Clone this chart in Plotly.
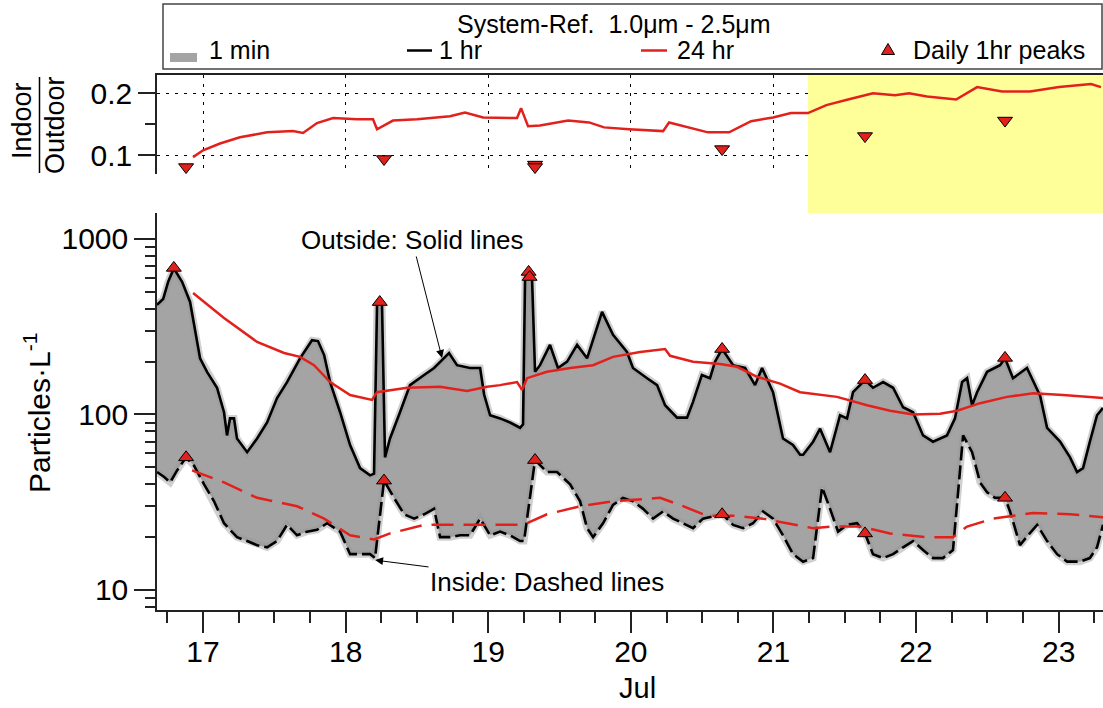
import math
import plotly.graph_objects as go

# ---------------- data (days of July, particles per litre) ----------------
out_day = [16.677, 16.720, 16.755, 16.795, 16.853, 16.909, 16.979, 17.028, 17.098, 17.147, 17.168, 17.189,
           17.217, 17.238, 17.309, 17.379, 17.449, 17.519, 17.589, 17.680, 17.764, 17.806, 17.849, 17.891,
           17.961, 18.031, 18.101, 18.171, 18.199, 18.220, 18.239, 18.255, 18.276, 18.311, 18.381, 18.451,
           18.550, 18.620, 18.725, 18.781, 18.872, 18.943, 18.971, 18.992, 19.013, 19.083, 19.153, 19.223,
           19.244, 19.258, 19.286, 19.307, 19.328, 19.363, 19.433, 19.489, 19.553, 19.623, 19.693, 19.798,
           19.875, 19.973, 20.015, 20.114, 20.184, 20.240, 20.324, 20.394, 20.436, 20.498, 20.555, 20.590,
           20.640, 20.717, 20.801, 20.871, 20.920, 20.997, 21.067, 21.137, 21.187, 21.208, 21.278, 21.327,
           21.397, 21.467, 21.516, 21.558, 21.642, 21.698, 21.769, 21.839, 21.909, 21.979, 22.049, 22.119,
           22.217, 22.273, 22.323, 22.358, 22.393, 22.428, 22.498, 22.589, 22.624, 22.680, 22.778, 22.870,
           22.919, 23.010, 23.080, 23.129, 23.171, 23.219, 23.269, 23.311]
out_val = [421, 455, 570, 680, 570, 438, 209, 175, 142, 103, 76, 95,
           95, 73, 61, 73, 90, 124, 153, 209, 265, 262, 218, 153,
           103, 67, 49.5, 45, 46, 421, 440, 421, 57, 73, 103, 147,
           168, 184, 224, 191, 184, 184, 130, 113, 99, 95, 90, 84,
           88, 600, 650, 600, 175, 191, 249, 184, 200, 249, 209, 384,
           284, 227, 184, 161, 147, 113, 96, 96, 118, 168, 161, 200,
           236, 191, 184, 147, 184, 134, 73, 67, 59, 59, 70, 83,
           61, 99, 95, 134, 157, 142, 153, 142, 110, 103, 76, 70,
           76, 95, 153, 161, 113, 134, 175, 191, 209, 161, 184, 128,
           84, 70, 57, 47, 49.5, 70, 99, 109]

in_day = [16.677, 16.727, 16.769, 16.818, 16.881, 16.937, 17.007, 17.077, 17.147, 17.238, 17.309, 17.379,
          17.449, 17.519, 17.589, 17.659, 17.729, 17.799, 17.870, 17.961, 18.031, 18.101, 18.171, 18.206,
          18.269, 18.339, 18.410, 18.480, 18.550, 18.620, 18.662, 18.732, 18.802, 18.872, 18.943, 19.013,
          19.083, 19.153, 19.223, 19.251, 19.328, 19.412, 19.482, 19.574, 19.644, 19.693, 19.735, 19.805,
          19.875, 19.945, 20.015, 20.086, 20.156, 20.226, 20.296, 20.366, 20.436, 20.506, 20.640, 20.717,
          20.787, 20.857, 20.927, 20.997, 21.067, 21.137, 21.208, 21.278, 21.341, 21.397, 21.453, 21.516,
          21.586, 21.642, 21.698, 21.769, 21.839, 21.909, 21.979, 22.049, 22.119, 22.189, 22.259, 22.330,
          22.393, 22.449, 22.498, 22.554, 22.624, 22.659, 22.729, 22.785, 22.849, 22.919, 22.989, 23.059,
          23.150, 23.219, 23.269, 23.311]
in_val = [47, 44, 41, 48, 57, 51, 40, 32, 24, 20, 19, 18,
          17.5, 19, 23.5, 20.5, 21.5, 22, 24, 21.5, 16, 16, 16, 15.2,
          42, 33.5, 27, 25.5, 27, 29, 20, 20, 20.5, 20.5, 25.5, 20.5,
          21.5, 20.5, 19, 19, 55, 47, 47, 40, 32, 22.5, 20, 24,
          30.5, 33.5, 32, 29, 25.5, 28, 25.5, 24, 22.5, 25.5, 27, 23.5,
          22.5, 24, 28, 25.5, 20.5, 16, 14.5, 15.2, 38.5, 29, 21.5, 23.5,
          24, 21, 16, 15.2, 16, 17.5, 19, 16.9, 15.2, 15.2, 16.9, 76,
          61, 41, 36, 33.5, 33.5, 28, 18, 20.5, 23.5, 19, 16, 14.5,
          14.5, 15.2, 17.5, 23.5]

out24_day = [16.930, 17.147, 17.379, 17.568, 17.680, 17.778, 17.891, 18.031, 18.185, 18.220, 18.431,
             18.662, 18.851, 18.992, 19.083, 19.202, 19.237, 19.272, 19.412, 19.574, 19.735, 19.875,
             20.065, 20.240, 20.275, 20.436, 20.626, 20.745, 20.885, 21.046, 21.187, 21.446, 21.656,
             21.818, 21.979, 22.168, 22.288, 22.449, 22.638, 22.820, 23.031, 23.311]
out24_val = [492, 355, 259, 224, 213, 191, 153, 129, 121, 134, 142,
             144, 136, 144, 147, 153, 138, 161, 175, 184, 191, 213,
             227, 236, 216, 200, 194, 187, 164, 150, 134, 126, 113,
             105, 100, 101, 105, 116, 126, 132, 129, 124]

in24_day = [16.923, 17.147, 17.379, 17.659, 17.849, 18.031, 18.199, 18.311, 18.550, 18.781, 18.943,
            19.083, 19.244, 19.412, 19.644, 19.875, 20.065, 20.205, 20.345, 20.534, 20.717, 20.927,
            21.095, 21.278, 21.418, 21.607, 21.818, 22.077, 22.259, 22.358, 22.540, 22.820, 23.080, 23.311]
in24_val = [48, 41, 33.5, 30, 25.5, 20.5, 19.4, 21, 23.5, 23.5, 23.5,
            23.5, 23.5, 27, 30, 32, 33, 33.5, 30.5, 26.5, 26.5, 25.5,
            24, 22.5, 23, 23, 21, 20, 20, 23, 25.5, 27.5, 27, 26]

ratio_day = [16.930, 17.000, 17.119, 17.259, 17.449, 17.631, 17.701, 17.799, 17.912, 18.080, 18.192,
             18.220, 18.332, 18.501, 18.732, 18.837, 18.964, 19.202, 19.230, 19.279, 19.363, 19.560,
             19.707, 19.812, 19.987, 20.226, 20.268, 20.415, 20.541, 20.689, 20.843, 20.997, 21.123,
             21.242, 21.371, 21.523, 21.698, 21.853, 21.951, 22.077, 22.281, 22.428, 22.603, 22.799,
             23.003, 23.227, 23.297]
ratio_val = [0.097, 0.108, 0.119, 0.129, 0.137, 0.139, 0.136, 0.152, 0.160, 0.158, 0.158,
             0.142, 0.156, 0.158, 0.163, 0.169, 0.161, 0.160, 0.176, 0.147, 0.148, 0.156,
             0.153, 0.145, 0.142, 0.139, 0.153, 0.145, 0.137, 0.137, 0.155, 0.161, 0.168,
             0.168, 0.181, 0.190, 0.200, 0.197, 0.200, 0.195, 0.190, 0.210, 0.203, 0.203,
             0.210, 0.215, 0.210]

peak_out_day = [16.795, 18.239, 19.283, 19.290, 20.640, 21.642, 22.624]
peak_out_val = [684, 437, 649, 607, 236, 157, 210]
peak_in_day = [16.881, 18.269, 19.328, 20.640, 21.642, 22.624]
peak_in_val = [57, 42, 55, 27, 21, 33.5]
peak_ratio_day = [16.881, 18.269, 19.328, 19.328, 20.640, 21.642, 22.624]
peak_ratio_val = [0.081, 0.094, 0.085, 0.081, 0.110, 0.131, 0.156]

main_ticks = [10, 100, 1000]
main_minor = [8, 9, 20, 30, 40, 50, 60, 70, 80, 90, 200, 300, 400, 500, 600, 700, 800, 900]
ratio_ticks = [0.1, 0.2]
ratio_minor = [0.15]
highlight_start = 21.242           # yellow period
x_range = [16.677, 23.311]
y_log_range = [0.886, 3.148]
ratio_range = [0.0698, 0.2295]

outside_tip = (18.676, 210)
inside_tip = (18.206, 14.8)

# ---------------- styling / layout helpers ----------------
W, H = 1103, 708
L, R, T, B = 157, 0, 75, 98
PW, PH = W - L - R, H - T - B
FONT = "Liberation Sans, Arial, Helvetica, sans-serif"
RED = "#e3211c"
GRAY = "#a4a4a4"
AX = "#222222"


def px(x):
    return (x - L) / PW


def py(y):
    return (H - B - y) / PH


fig = go.Figure()

# 1-min band
fig.add_trace(go.Scatter(x=out_day + in_day[::-1], y=out_val + in_val[::-1], fill="toself",
                         fillcolor=GRAY, mode="lines", line=dict(width=0), hoverinfo="skip",
                         showlegend=False, xaxis="x", yaxis="y"))
fig.add_trace(go.Scatter(x=out_day, y=out_val, mode="lines",
                         line=dict(color="rgba(150,150,150,0.45)", width=7),
                         showlegend=False, xaxis="x", yaxis="y"))
fig.add_trace(go.Scatter(x=in_day, y=in_val, mode="lines",
                         line=dict(color="rgba(150,150,150,0.45)", width=7),
                         showlegend=False, xaxis="x", yaxis="y"))
# 1 hr
fig.add_trace(go.Scatter(x=out_day, y=out_val, mode="lines", line=dict(color="black", width=2.6),
                         showlegend=False, xaxis="x", yaxis="y"))
fig.add_trace(go.Scatter(x=in_day, y=in_val, mode="lines",
                         line=dict(color="black", width=2.6, dash="14px,5px"),
                         showlegend=False, xaxis="x", yaxis="y"))
# 24 hr
fig.add_trace(go.Scatter(x=out24_day, y=out24_val, mode="lines", line=dict(color=RED, width=2.5),
                         showlegend=False, xaxis="x", yaxis="y"))
fig.add_trace(go.Scatter(x=in24_day, y=in24_val, mode="lines",
                         line=dict(color=RED, width=2.5, dash="22px,10px"),
                         showlegend=False, xaxis="x", yaxis="y"))
# peaks
tri = dict(symbol="triangle-up", size=13, color=RED, line=dict(color="black", width=1))
fig.add_trace(go.Scatter(x=peak_out_day, y=peak_out_val, mode="markers", marker=tri,
                         showlegend=False, xaxis="x", yaxis="y"))
fig.add_trace(go.Scatter(x=peak_in_day, y=peak_in_val, mode="markers", marker=tri,
                         showlegend=False, xaxis="x", yaxis="y"))
# ratio panel
fig.add_trace(go.Scatter(x=ratio_day, y=ratio_val, mode="lines", line=dict(color=RED, width=2.5),
                         showlegend=False, xaxis="x2", yaxis="y2"))
fig.add_trace(go.Scatter(x=peak_ratio_day, y=peak_ratio_val, mode="markers",
                         marker=dict(symbol="triangle-down", size=13, color=RED,
                                     line=dict(color="black", width=1)),
                         showlegend=False, xaxis="x2", yaxis="y2"))

tickfont = dict(family=FONT, size=30, color="black")
fig.update_layout(
    width=W, height=H, margin=dict(l=L, r=R, t=T, b=B, pad=0),
    paper_bgcolor="white", plot_bgcolor="white", showlegend=False,
    font=dict(family=FONT, color="black"),
    xaxis=dict(domain=[0, 1], anchor="y", range=x_range, tick0=0, dtick=1,
               ticks="outside", ticklen=21, tickwidth=1.5, tickcolor=AX, tickfont=tickfont,
               ticklabelstandoff=-7,
               minor=dict(ticks="outside", dtick=0.25, tick0=0, ticklen=11, tickwidth=1.5,
                          tickcolor=AX, showgrid=False),
               showline=True, linecolor=AX, linewidth=1.5, showgrid=False, zeroline=False),
    yaxis=dict(domain=[0, py(213)], anchor="x", type="log", range=y_log_range,
               tickvals=main_ticks, ticktext=[str(v) for v in main_ticks],
               ticks="outside", ticklen=21, tickwidth=1.5, tickcolor=AX, tickfont=tickfont,
               minor=dict(ticks="outside", tickvals=main_minor, ticklen=10, tickwidth=1.5,
                          tickcolor=AX, showgrid=False),
               showline=True, linecolor=AX, linewidth=1.5, showgrid=False, zeroline=False),
    xaxis2=dict(domain=[0, 1], anchor="y2", matches="x", range=x_range, side="top",
                tick0=0, dtick=1, ticks="", showticklabels=False,
                showgrid=True, gridcolor="black", gridwidth=1, griddash="3px,6px",
                showline=True, linecolor=AX, linewidth=1.5, zeroline=False),
    yaxis2=dict(domain=[py(174), 1], anchor="x2", range=ratio_range,
                tickvals=ratio_ticks, ticktext=["0.1", "0.2"],
                ticks="outside", ticklen=17, tickwidth=1.5, tickcolor=AX, tickfont=tickfont,
                minor=dict(ticks="outside", tickvals=ratio_minor, ticklen=10, tickwidth=1.5,
                           tickcolor=AX, showgrid=False),
                showgrid=True, gridcolor="black", gridwidth=1, griddash="3px,6px",
                showline=True, linecolor=AX, linewidth=1.5, zeroline=False),
)


def tri_path(cx, cy, w, h):
    pts = [(cx - w / 2, cy + h / 2), (cx + w / 2, cy + h / 2), (cx, cy - h / 2)]
    return "M " + " L ".join(f"{px(a):.5f},{py(b):.5f}" for a, b in pts) + " Z"


shapes = [
    # yellow period (gap part and panel part)
    dict(type="rect", xref="x", yref="paper", x0=highlight_start, x1=x_range[1],
         y0=py(213), y1=1, fillcolor="#ffff99", line=dict(width=0), layer="below"),
    dict(type="rect", xref="x2", yref="y2", x0=highlight_start, x1=x_range[1],
         y0=ratio_range[0], y1=ratio_range[1], fillcolor="#ffff99", line=dict(width=0),
         layer="between"),
    # legend box
    dict(type="rect", xref="paper", yref="paper", x0=px(163), x1=px(1102), y0=py(69), y1=py(4),
         line=dict(color="#444444", width=1.5), fillcolor="rgba(0,0,0,0)"),
    # legend symbols
    dict(type="rect", xref="paper", yref="paper", x0=px(170), x1=px(197), y0=py(62), y1=py(53),
         fillcolor=GRAY, line=dict(width=0)),
    dict(type="line", xref="paper", yref="paper", x0=px(407), x1=px(432), y0=py(50.5), y1=py(50.5),
         line=dict(color="black", width=2.5)),
    dict(type="line", xref="paper", yref="paper", x0=px(641), x1=px(667), y0=py(50.5), y1=py(50.5),
         line=dict(color=RED, width=2.5)),
    dict(type="path", xref="paper", yref="paper", path=tri_path(888, 49, 13, 11),
         fillcolor=RED, line=dict(color="black", width=1)),
    # fraction bar for Indoor / Outdoor
    dict(type="line", xref="paper", yref="paper", x0=px(39.5), x1=px(39.5), y0=py(173), y1=py(77),
         line=dict(color="black", width=1.5)),
]
fig.update_layout(shapes=shapes)

lf = dict(family=FONT, size=25, color="black")
ann = [
    dict(text="System-Ref.\u00a0 1.0\u03bcm - 2.5\u03bcm", x=px(614), y=py(24.5), xanchor="center",
         yanchor="middle", font=lf),
    dict(text="1 min", x=px(207), y=py(50), xanchor="left", yanchor="middle", font=lf),
    dict(text="1 hr", x=px(437), y=py(50), xanchor="left", yanchor="middle", font=lf),
    dict(text="24 hr", x=px(675), y=py(50), xanchor="left", yanchor="middle", font=lf),
    dict(text="Daily 1hr peaks", x=px(911), y=py(50), xanchor="left", yanchor="middle", font=lf),
    dict(text="Jul", x=px(637), y=py(688), xanchor="center", yanchor="middle",
         font=dict(family=FONT, size=29, color="black")),
    dict(text="Particles\u00b7L<sup>-1</sup>", x=px(37), y=py(413), xanchor="center",
         yanchor="middle", textangle=-90, font=dict(family=FONT, size=30, color="black")),
    dict(text="Indoor", x=px(22), y=py(121), xanchor="center", yanchor="middle", textangle=-90,
         font=dict(family=FONT, size=27, color="black")),
    dict(text="Outdoor", x=px(55), y=py(125), xanchor="center", yanchor="middle", textangle=-90,
         font=dict(family=FONT, size=27, color="black")),
]
for a in ann:
    a.update(xref="paper", yref="paper", showarrow=False)

af = dict(family=FONT, size=26, color="black")
ann.append(dict(text="Outside: Solid lines", font=af, x=outside_tip[0], y=math.log10(outside_tip[1]),
                xref="x", yref="y", showarrow=True, ax=-30, ay=-118, arrowhead=2, arrowsize=1.6,
                arrowwidth=1, arrowcolor="black", standoff=0, startstandoff=0))
ann.append(dict(text="Inside: Dashed lines", font=af, x=inside_tip[0], y=math.log10(inside_tip[1]),
                xref="x", yref="y", showarrow=True, ax=172, ay=22, arrowhead=2, arrowsize=1.6,
                arrowwidth=1, arrowcolor="black", standoff=0, startstandoff=0))
fig.update_layout(annotations=ann)

fig.write_html("out.html", config={"displayModeBar": False},
               post_script="document.body.style.margin='0';document.body.style.padding='0';")
